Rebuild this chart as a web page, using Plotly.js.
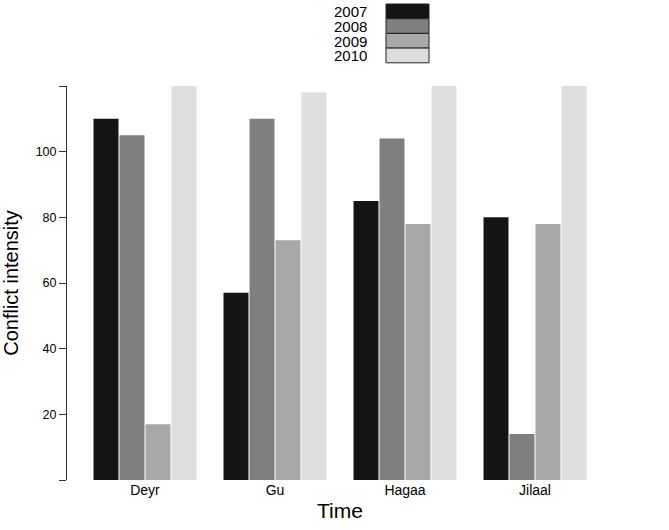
<!DOCTYPE html>
<html>
<head>
<meta charset="utf-8">
<script src="https://cdn.plot.ly/plotly-3.0.1.min.js"></script>
<style>
  html, body { margin: 0; padding: 0; background: #fff; }
  #chart { width: 669px; height: 530px; }
</style>
</head>
<body>
<div id="chart"></div>
<script>
// seasons on the x axis, one series per year
const seasons = ["Deyr", "Gu", "Hagaa", "Jilaal"];
const years = ["2007", "2008", "2009", "2010"];
const colors = ["#141414", "#7f7f7f", "#a8a8a8", "#dedede"];

const v2007 = [110, 57, 85, 80];
const v2008 = [105, 110, 104, 14];
const v2009 = [17, 73, 78, 78];
const v2010 = [130, 118, 130, 130];   // tops above 120 are cut off in the original

const yTicks = [0, 20, 40, 60, 80, 100, 120];
const yTickText = ["", "20", "40", "60", "80", "100", ""];

const seriesValues = [v2007, v2008, v2009, v2010];

var data = [];
for (var i = 0; i < years.length; i++) {
    data.push({
        type: "bar",
        name: years[i],
        x: seasons,
        y: seriesValues[i],
        marker: {color: colors[i], line: {width: 0}},
        hoverinfo: "x+y+name"
    });
}

// legend drawn by hand: labels left, boxes right
var shapes = [];
var annotations = [];
var rowH = 14.7;
var top0 = 4;
for (var k = 0; k < years.length; k++) {
    var y0 = top0 + k * rowH;
    shapes.push({
        type: "rect", xref: "paper", yref: "paper",
        x0: (386 - 67) / 546, x1: (429 - 67) / 546,
        y0: (480 - y0) / 394 , y1: (480 - (y0 + rowH)) / 394,
        fillcolor: colors[k],
        line: {color: "#222", width: 1}
    });
    annotations.push({
        xref: "paper", yref: "paper",
        x: (369 - 67) / 546, y: (480 - (y0 + rowH / 2)) / 394,
        xanchor: "right", yanchor: "middle",
        height: 14,
        text: years[k], showarrow: false,
        font: {size: 15, color: "#000"}
    });
}

var layout = {
    width: 669,
    height: 530,
    margin: {l: 67, r: 56, t: 86, b: 50},
    paper_bgcolor: "#fff",
    plot_bgcolor: "#fff",
    font: {family: "Liberation Sans, Arial, sans-serif", color: "#000"},
    showlegend: false,
    barmode: "group",
    bargap: 0.2,
    bargroupgap: 0.04,
    xaxis: {
        type: "category",
        range: [-0.6, 3.6],
        showline: false,
        showgrid: false,
        zeroline: false,
        ticks: "",
        tickfont: {size: 14},
        title: {text: "Time", font: {size: 21}, standoff: 6}
    },
    yaxis: {
        range: [0, 120],
        showline: true,
        linecolor: "#333",
        linewidth: 1,
        showgrid: false,
        zeroline: false,
        ticks: "outside",
        ticklen: 7,
        tickcolor: "#333",
        tickmode: "array",
        tickvals: yTicks,
        ticktext: yTickText,
        tickfont: {size: 12.5},
        title: {text: "Conflict intensity", font: {size: 20}, standoff: 12}
    },
    shapes: shapes,
    annotations: annotations
};

Plotly.newPlot("chart", data, layout, {displayModeBar: false, staticPlot: true});
</script>
</body>
</html>
